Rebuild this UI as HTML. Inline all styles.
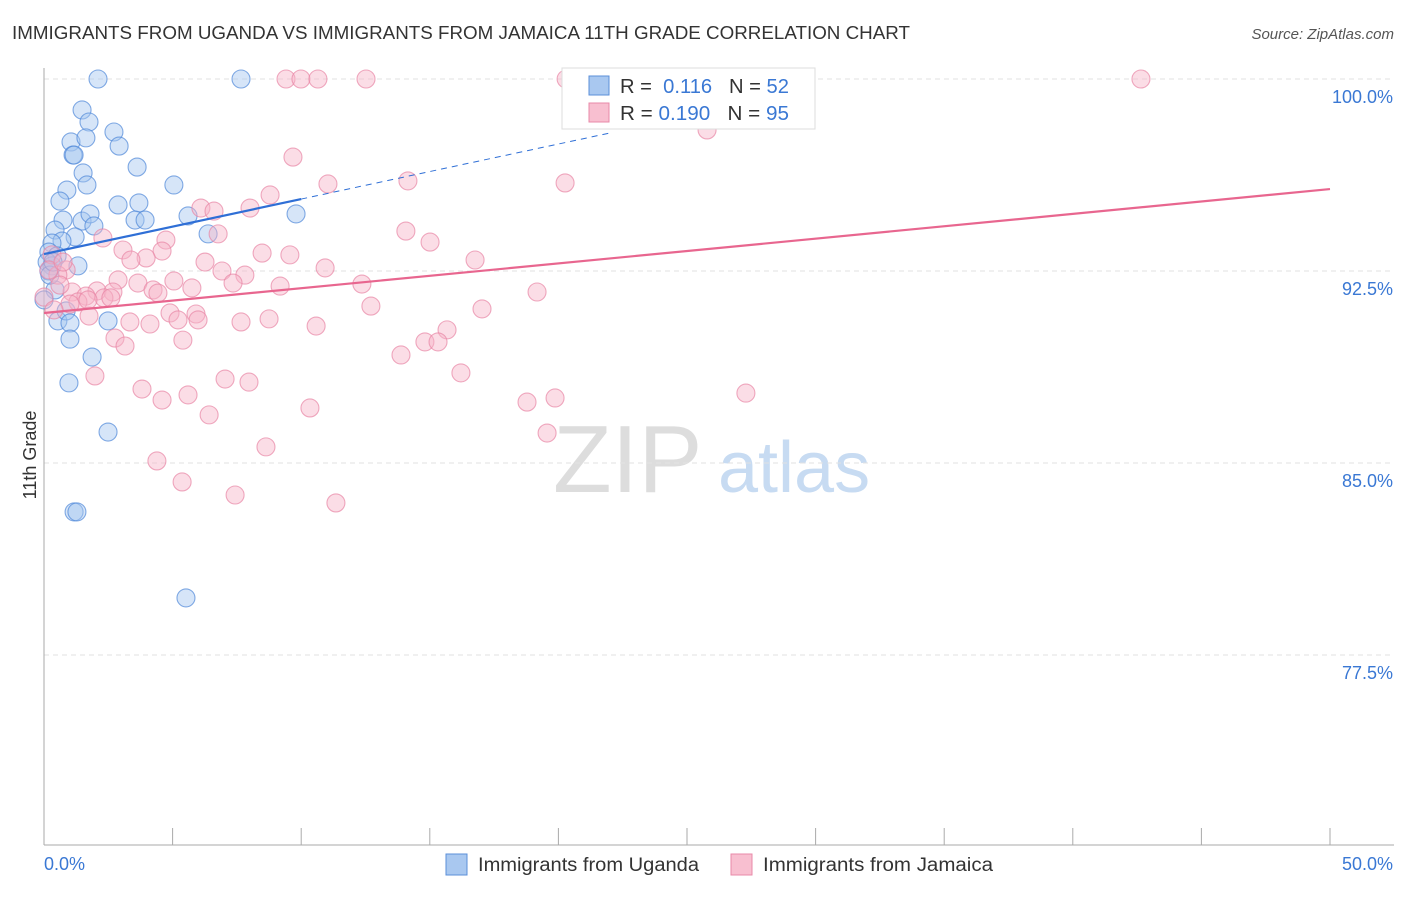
<!DOCTYPE html>
<html><head><meta charset="utf-8">
<style>
body{margin:0;background:#fff;font-family:"Liberation Sans",sans-serif;}
svg text{font-family:"Liberation Sans",sans-serif;}
</style></head>
<body>
<svg id="chart" width="1406" height="892" viewBox="0 0 1406 892">
<text x="12" y="39" font-size="18" fill="#333" textLength="898" lengthAdjust="spacingAndGlyphs">IMMIGRANTS FROM UGANDA VS IMMIGRANTS FROM JAMAICA 11TH GRADE CORRELATION CHART</text>
<text x="1394" y="39" font-size="15" fill="#555" text-anchor="end" font-style="italic">Source: ZipAtlas.com</text>
<g>
<text x="553" y="492" font-size="96" fill="#ddd" font-family="Liberation Serif, serif">ZIP</text>
<text x="718" y="492" font-size="72" fill="#c7dbf2">atlas</text>
</g>
<g id="grid"></g>
<g id="axes"></g>
<g id="pts-b"></g>
<g id="pts-p"></g>
<g id="trend"></g>
<text x="36" y="455" font-size="18" fill="#333" text-anchor="middle" transform="rotate(-90 36 455)">11th Grade</text>
<g>
<rect x="562" y="68" width="253" height="61" fill="#fff" stroke="#ddd"/>
<rect x="589" y="76" width="20" height="19" fill="#a9c8f0" stroke="#5b8fd9"/>
<text x="620" y="93" font-size="20" fill="#333" textLength="169" lengthAdjust="spacingAndGlyphs">R = <tspan fill="#3a78d4">&#160;0.116</tspan>&#160;&#160;&#160;N = <tspan fill="#3a78d4">52</tspan></text>
<rect x="589" y="103" width="20" height="19" fill="#f8bfd0" stroke="#e88aa8"/>
<text x="620" y="120" font-size="20" fill="#333" textLength="169" lengthAdjust="spacingAndGlyphs">R = <tspan fill="#3a78d4">0.190</tspan>&#160;&#160;&#160;N = <tspan fill="#3a78d4">95</tspan></text>
</g>
<g>
<rect x="446" y="854" width="21" height="21" fill="#a9c8f0" stroke="#5b8fd9"/>
<text x="478" y="871" font-size="19" fill="#333" textLength="221" lengthAdjust="spacingAndGlyphs">Immigrants from Uganda</text>
<rect x="731" y="854" width="21" height="21" fill="#f8bfd0" stroke="#e88aa8"/>
<text x="763" y="871" font-size="19" fill="#333" textLength="230" lengthAdjust="spacingAndGlyphs">Immigrants from Jamaica</text>
</g>
</svg>
<script>
const yTicks=[100,92.5,85,77.5];
const yTickLabels=["100.0%","92.5%","85.0%","77.5%"];
const xTickValues=[0,5,10,15,20,25,30,35,40,45,50];
const xEndLabels=["0.0%","50.0%"];
const ugandaX=[2.10,7.66,1.48,1.75,2.72,1.05,1.63,2.92,1.13,1.17,3.62,1.52,5.05,1.67,0.89,0.62,2.88,3.69,0.74,1.48,1.79,3.54,3.93,5.60,9.80,1.94,6.38,0.43,1.21,0.70,0.31,0.19,0.51,0.12,1.32,0.31,0.19,0.43,0.54,0.86,1.01,2.49,1.01,1.87,0.97,2.49,1.17,1.28,5.52,0.0,0.23,0.35];
const ugandaY=[100,100,98.79,98.32,97.93,97.54,97.70,97.38,97.03,97.03,96.56,96.33,95.86,95.86,95.66,95.23,95.08,95.16,94.49,94.45,94.73,94.49,94.49,94.65,94.73,94.26,93.95,94.10,93.83,93.67,93.59,93.24,93.09,92.85,92.70,92.70,92.50,91.76,90.55,90.94,90.47,90.55,89.84,89.14,88.13,86.21,83.09,83.09,79.73,91.37,92.34,92.85];
const jamaicaX=[9.41,9.99,10.65,12.52,20.30,42.65,25.78,9.68,11.04,14.15,20.26,8.79,6.10,6.61,8.01,2.29,4.74,6.77,14.07,15.01,3.07,4.59,3.97,3.38,8.48,9.56,6.26,16.76,0.31,10.93,0.86,0.54,6.92,7.81,2.88,5.05,3.65,7.35,5.75,9.18,12.36,4.24,4.43,2.06,2.68,19.17,1.09,1.63,2.33,2.60,1.32,1.01,12.71,17.03,5.91,4.90,1.75,3.34,4.12,5.21,5.99,7.66,8.75,10.58,15.67,14.81,15.32,5.40,2.76,3.15,13.88,16.21,1.98,7.04,7.97,3.81,5.60,4.59,10.34,18.78,19.87,27.29,6.42,19.56,8.63,4.39,5.37,7.43,11.35,0,0.62,0.19,0.74,0.39,1.71];
const jamaicaY=[100,100,100,100,100,100,98.01,96.95,95.90,96.02,95.94,95.47,94.96,94.84,94.96,93.79,93.71,93.95,94.06,93.63,93.32,93.28,93.01,92.93,93.20,93.13,92.85,92.93,93.13,92.62,92.54,92.34,92.50,92.34,92.15,92.11,92.03,92.03,91.84,91.91,91.99,91.76,91.64,91.72,91.68,91.68,91.68,91.52,91.45,91.45,91.29,91.21,91.13,91.02,90.82,90.86,90.74,90.51,90.43,90.59,90.59,90.51,90.63,90.35,90.20,89.73,89.73,89.80,89.88,89.57,89.22,88.52,88.40,88.28,88.16,87.89,87.66,87.46,87.15,87.38,87.54,87.73,86.88,86.17,85.63,85.08,84.26,83.75,83.44,91.48,91.95,92.54,92.85,90.98,91.37];
const ugandaTrend=[93.16,95.31];
const jamaicaTrend=[90.86,95.70];

const NS="http://www.w3.org/2000/svg";
const X0=44,X1=1330,YTOP=79,YBOT=845;
function sx(v){return X0+(v/50)*(X1-X0);}
function sy(v){return YTOP+(100-v)/7.5*192;}
function mk(tag,attrs,parent){const e=document.createElementNS(NS,tag);for(const k in attrs)e.setAttribute(k,attrs[k]);parent.appendChild(e);return e;}
const grid=document.getElementById('grid'),axes=document.getElementById('axes');
yTicks.forEach((t,i)=>{
  const l=mk('line',{x1:X0,x2:1394,y1:sy(t),y2:sy(t),stroke:'#e2e2e2','stroke-dasharray':'5,4'},grid);
  
  
  const tx=mk('text',{x:1393,y:sy(t)+24,'font-size':18,fill:'#3a78d4','text-anchor':'end'},axes);
  tx.textContent=yTickLabels[i];
  
  
});
const ya=mk('line',{x1:X0,x2:X0,y1:68,y2:YBOT,stroke:'#aaa'},axes);


const xa=mk('line',{x1:X0,x2:1394,y1:YBOT,y2:YBOT,stroke:'#aaa'},axes);


xTickValues.forEach(v=>{
  const t=mk('line',{x1:sx(v),x2:sx(v),y1:828,y2:YBOT,stroke:'#aaa'},axes);
  
  
});
const xl0=mk('text',{x:44,y:870,'font-size':18,fill:'#3a78d4'},axes);xl0.textContent=xEndLabels[0];


const xl1=mk('text',{x:1393,y:870,'font-size':18,fill:'#3a78d4','text-anchor':'end'},axes);xl1.textContent=xEndLabels[1];


function drawPts(xs,ys,g,fill,stroke,name){
  xs.forEach((x,i)=>{
    const c=mk('circle',{cx:sx(x),cy:sy(ys[i]),r:9,fill:fill,'fill-opacity':0.45,stroke:stroke,'stroke-width':1.1,'stroke-opacity':0.7},g);
    
    
  });
}
drawPts(jamaicaX,jamaicaY,document.getElementById('pts-p'),'#f6b3c8','#e886a5','jamaica-point');
drawPts(ugandaX,ugandaY,document.getElementById('pts-b'),'#a5c6ef','#4f88d8','uganda-point');
const tr=document.getElementById('trend');
function yAt(tr2,x){return tr2[0]+(tr2[1]-tr2[0])*x/10;}
const bl=mk('line',{x1:sx(0),y1:sy(ugandaTrend[0]),x2:sx(10),y2:sy(ugandaTrend[1]),stroke:'#2f6fd6','stroke-width':2.2},tr);


const bd=mk('line',{x1:sx(10),y1:sy(ugandaTrend[1]),x2:sx(22),y2:sy(yAt(ugandaTrend,22)),stroke:'#2f6fd6','stroke-width':1,'stroke-dasharray':'6,5'},tr);


const pl=mk('line',{x1:sx(0),y1:sy(jamaicaTrend[0]),x2:sx(50),y2:sy(jamaicaTrend[1]),stroke:'#e8668f','stroke-width':2.2},tr);


</script>
</body></html>
